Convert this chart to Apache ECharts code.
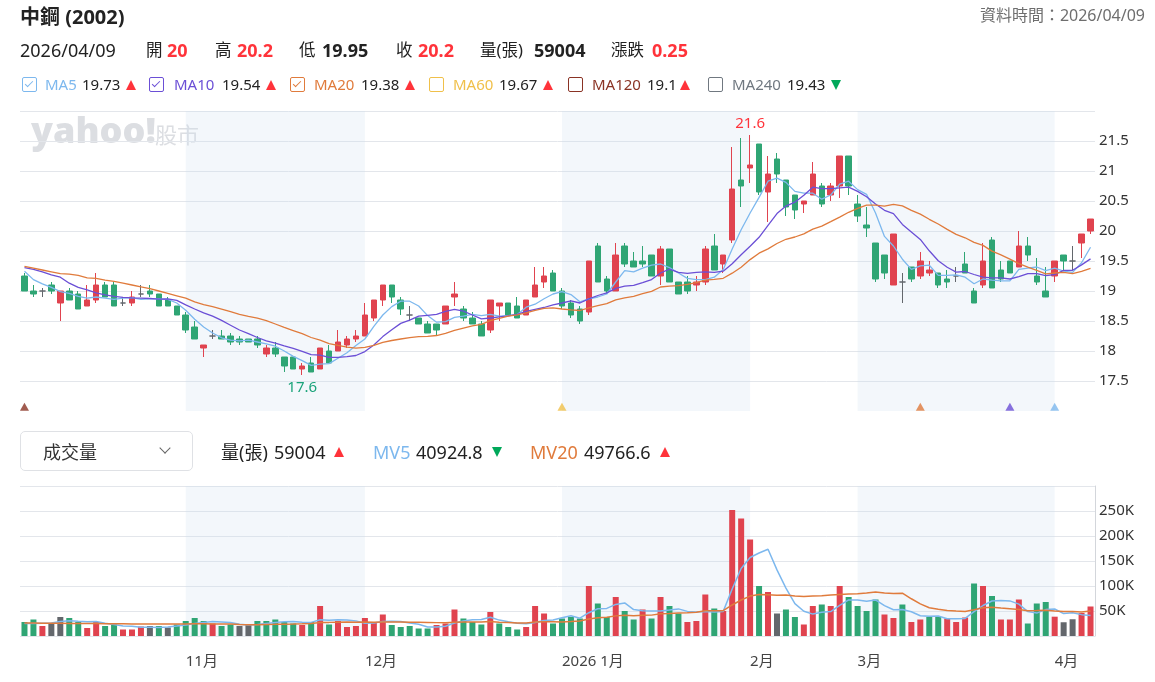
<!DOCTYPE html>
<html>
<head>
<meta charset="utf-8">
<title>中鋼 (2002)</title>
<script src="https://cdn.jsdelivr.net/npm/echarts@6.0.0/dist/echarts.min.js"></script>
<style>
  body { margin: 0; background: #fff; font-family: "Noto Sans", "Noto Sans CJK TC", sans-serif; color: #222; }
  #wrap { position: relative; width: 1155px; height: 682px; overflow: hidden; }
  #chart { position: absolute; left: 0; top: 0; width: 1155px; height: 682px; }
  .t { position: absolute; white-space: nowrap; line-height: 1; }
  .b { font-weight: bold; }
  .red { color: #ff333a; }
  .row2 { top: 41px; font-size: 18px; }
  .row2.k { top: 42px; font-size: 16.5px; }
  .lg { top: 77px; font-size: 15px; }
  .mid { top: 443px; font-size: 18px; }
  .box { position: absolute; top: 77px; width: 13px; height: 13px; border: 1.5px solid; border-radius: 2px; }
  .box.on::after { content: ''; position: absolute; left: 4px; top: 1px; width: 3px; height: 7px;
    border: solid currentColor; border-width: 0 1.5px 1.5px 0; transform: rotate(45deg); }
  .up { position: absolute; width: 0; height: 0; border-left: 5px solid transparent; border-right: 5px solid transparent; border-bottom: 10px solid #ff333a; }
  .dn { position: absolute; width: 0; height: 0; border-left: 5px solid transparent; border-right: 5px solid transparent; border-top: 10px solid #00a85a; }
  #sel { position: absolute; left: 20px; top: 431px; width: 171px; height: 38px; border: 1.5px solid #dfe1e5; border-radius: 5px; }
  #chev { position: absolute; left: 161px; top: 444px; width: 7px; height: 7px; border: solid #666; border-width: 0 1.5px 1.5px 0; transform: rotate(45deg); }
</style>
</head>
<body>
<div id="wrap">
  <div id="chart"></div>

  <div class="t b" style="left:20px;top:7px;font-size:20px;">中鋼 (2002)</div>
  <div class="t" style="right:10px;top:7px;font-size:16px;color:#6e6e6e;">資料時間：2026/04/09</div>

  <div class="t row2" style="left:20px;">2026/04/09</div>
  <div class="t row2 k" style="left:146px;">開</div><div class="t row2 b red" style="left:167px;">20</div>
  <div class="t row2 k" style="left:215px;">高</div><div class="t row2 b red" style="left:237px;">20.2</div>
  <div class="t row2 k" style="left:299px;">低</div><div class="t row2 b" style="left:322px;">19.95</div>
  <div class="t row2 k" style="left:396px;">收</div><div class="t row2 b red" style="left:418px;">20.2</div>
  <div class="t row2 k" style="left:480px;">量(張)</div><div class="t row2 b" style="left:534px;">59004</div>
  <div class="t row2 k" style="left:611px;">漲跌</div><div class="t row2 b red" style="left:652px;">0.25</div>

  <div class="box on" style="left:22px;color:#7db8ee;"></div>
  <div class="t lg" style="left:45px;color:#7db8ee;">MA5</div><div class="t lg" style="left:82px;">19.73</div><div class="up" style="left:126px;top:80px;"></div>
  <div class="box on" style="left:149px;color:#6b4fd6;"></div>
  <div class="t lg" style="left:174px;color:#6b4fd6;">MA10</div><div class="t lg" style="left:222px;">19.54</div><div class="up" style="left:266px;top:80px;"></div>
  <div class="box on" style="left:290px;color:#e07b3c;"></div>
  <div class="t lg" style="left:314px;color:#e07b3c;">MA20</div><div class="t lg" style="left:361px;">19.38</div><div class="up" style="left:405px;top:80px;"></div>
  <div class="box" style="left:429px;color:#f0c04a;"></div>
  <div class="t lg" style="left:453px;color:#f0c04a;">MA60</div><div class="t lg" style="left:499px;">19.67</div><div class="up" style="left:543px;top:80px;"></div>
  <div class="box" style="left:568px;color:#8a3324;"></div>
  <div class="t lg" style="left:592px;color:#8a3324;">MA120</div><div class="t lg" style="left:647px;">19.1</div><div class="up" style="left:680px;top:80px;"></div>
  <div class="box" style="left:708px;color:#707880;"></div>
  <div class="t lg" style="left:732px;color:#707880;">MA240</div><div class="t lg" style="left:787px;">19.43</div><div class="dn" style="left:831px;top:80px;"></div>

  <div id="sel"></div>
  <div class="t mid" style="left:43px;color:#333;">成交量</div>
  <div id="chev"></div>
  <div class="t mid" style="left:221px;">量(張)</div><div class="t mid" style="left:274px;">59004</div><div class="up" style="left:334px;top:447px;"></div>
  <div class="t mid" style="left:373px;color:#7db8ee;">MV5</div><div class="t mid" style="left:416px;">40924.8</div><div class="dn" style="left:492px;top:447px;"></div>
  <div class="t mid" style="left:530px;color:#e07b3c;">MV20</div><div class="t mid" style="left:584px;">49766.6</div><div class="up" style="left:660px;top:447px;"></div>
</div>

<script>
  // 交易日
  var dates = [
    '2025/10/03','2025/10/07','2025/10/08','2025/10/09','2025/10/13','2025/10/14','2025/10/15','2025/10/16','2025/10/17',
    '2025/10/20','2025/10/21','2025/10/22','2025/10/23','2025/10/27','2025/10/28','2025/10/29','2025/10/30','2025/10/31',
    '2025/11/03','2025/11/04','2025/11/05','2025/11/06','2025/11/07','2025/11/10','2025/11/11','2025/11/12','2025/11/13',
    '2025/11/14','2025/11/17','2025/11/18','2025/11/19','2025/11/20','2025/11/21','2025/11/24','2025/11/25','2025/11/26',
    '2025/11/27','2025/11/28',
    '2025/12/01','2025/12/02','2025/12/03','2025/12/04','2025/12/05','2025/12/08','2025/12/09','2025/12/10','2025/12/11',
    '2025/12/12','2025/12/15','2025/12/16','2025/12/17','2025/12/18','2025/12/19','2025/12/22','2025/12/23','2025/12/24',
    '2025/12/26','2025/12/29','2025/12/30','2025/12/31',
    '2026/01/02','2026/01/05','2026/01/06','2026/01/07','2026/01/08','2026/01/09','2026/01/12','2026/01/13','2026/01/14',
    '2026/01/15','2026/01/16','2026/01/19','2026/01/20','2026/01/21','2026/01/22','2026/01/23','2026/01/26','2026/01/27',
    '2026/01/28','2026/01/29','2026/01/30',
    '2026/02/02','2026/02/03','2026/02/04','2026/02/05','2026/02/06','2026/02/09','2026/02/10','2026/02/11',
    '2026/02/23','2026/02/24','2026/02/25','2026/02/26',
    '2026/03/02','2026/03/03','2026/03/04','2026/03/05','2026/03/06','2026/03/09','2026/03/10','2026/03/11','2026/03/12',
    '2026/03/13','2026/03/16','2026/03/17','2026/03/18','2026/03/19','2026/03/20','2026/03/23','2026/03/24','2026/03/25',
    '2026/03/26','2026/03/27','2026/03/30','2026/03/31',
    '2026/04/01','2026/04/02','2026/04/07','2026/04/08','2026/04/09'
  ];

  var opens = [
    19.25, 19.0, 19.0, 19.1, 18.8, 19.0, 18.95, 18.75, 18.85, 19.1,
    19.1, 18.8, 18.8, 18.95, 19.0, 18.95, 18.85, 18.75, 18.6, 18.4,
    18.05, 18.25, 18.25, 18.25, 18.2, 18.2, 18.2, 17.95, 18.05, 17.9,
    17.9, 17.7, 17.8, 17.7, 18.0, 18.0, 18.1, 18.2, 18.25, 18.55,
    18.85, 19.1, 18.85, 18.6, 18.55, 18.45, 18.45, 18.45, 18.9, 18.7,
    18.55, 18.45, 18.35, 18.75, 18.8, 18.75, 18.6, 18.9, 19.15, 19.3,
    19.0, 18.8, 18.7, 18.65, 19.75, 19.2, 19.0, 19.75, 19.5, 19.5,
    19.6, 19.25, 19.7, 19.15, 19.15, 19.1, 19.15, 19.75, 19.45, 19.85,
    20.85, 21.05, 21.45, 20.65, 21.2, 20.85, 20.6, 20.45, 20.6, 20.75,
    20.6, 20.75, 21.25, 20.45, 20.1, 19.8, 19.6, 19.1, 19.15, 19.4,
    19.25, 19.3, 19.3, 19.2, 19.25, 19.45, 19.0, 19.1, 19.85, 19.35,
    19.5, 19.4, 19.75, 19.25, 19.0, 19.25, 19.6, 19.5, 19.8, 20.0
  ];
  var closes = [
    19.0, 18.95, 19.0, 19.0, 19.0, 18.85, 18.7, 18.85, 19.1, 18.9,
    18.75, 18.8, 18.9, 18.95, 18.95, 18.75, 18.75, 18.6, 18.35, 18.2,
    18.1, 18.25, 18.2, 18.15, 18.15, 18.15, 18.1, 18.05, 17.95, 17.75,
    17.7, 17.75, 17.65, 18.05, 17.8, 18.15, 18.2, 18.25, 18.6, 18.85,
    19.1, 18.9, 18.7, 18.6, 18.45, 18.3, 18.35, 18.75, 18.95, 18.55,
    18.45, 18.25, 18.85, 18.8, 18.6, 18.55, 18.85, 19.1, 19.25, 19.0,
    18.75, 18.6, 18.5, 19.5, 19.15, 19.0, 19.6, 19.45, 19.4, 19.45,
    19.25, 19.7, 19.15, 18.95, 19.0, 19.15, 19.7, 19.35, 19.6, 20.7,
    20.75, 21.1, 20.65, 20.95, 20.95, 20.4, 20.35, 20.5, 20.95, 20.45,
    20.75, 21.25, 20.75, 20.25, 20.05, 19.2, 19.3, 19.95, 19.15, 19.2,
    19.5, 19.35, 19.1, 19.15, 19.25, 19.3, 18.8, 19.5, 19.05, 19.2,
    19.3, 19.75, 19.6, 19.15, 18.9, 19.5, 19.5, 19.5, 19.95, 20.2
  ];
  var lows = [
    19.0, 18.9, 18.9, 18.95, 18.5, 18.85, 18.7, 18.75, 18.8, 18.9,
    18.75, 18.75, 18.75, 18.9, 18.9, 18.75, 18.75, 18.6, 18.3, 18.2,
    17.9, 18.2, 18.2, 18.1, 18.1, 18.15, 18.05, 17.9, 17.9, 17.65,
    17.7, 17.6, 17.65, 17.7, 17.8, 18.0, 18.05, 18.15, 18.25, 18.5,
    18.75, 18.8, 18.6, 18.5, 18.45, 18.3, 18.25, 18.45, 18.75, 18.5,
    18.45, 18.25, 18.3, 18.5, 18.6, 18.55, 18.6, 18.9, 19.05, 19.0,
    18.7, 18.55, 18.45, 18.6, 19.15, 18.95, 19.0, 19.4, 19.4, 19.4,
    19.25, 19.1, 19.15, 18.95, 18.95, 19.0, 19.1, 19.35, 19.3, 19.8,
    20.4, 20.8, 20.6, 20.15, 20.8, 20.25, 20.2, 20.3, 20.6, 20.4,
    20.5, 20.55, 20.6, 20.15, 19.9, 19.15, 19.2, 19.1, 18.8, 19.15,
    19.2, 19.25, 19.05, 19.05, 19.15, 19.3, 18.8, 19.05, 19.05, 19.15,
    19.3, 19.4, 19.5, 19.1, 18.9, 19.15, 19.35, 19.35, 19.55, 19.95
  ];
  var highs = [
    19.3, 19.1, 19.05, 19.15, 19.0, 19.05, 19.0, 19.1, 19.3, 19.15,
    19.15, 18.9, 19.0, 19.1, 19.1, 18.95, 18.9, 18.75, 18.65, 18.5,
    18.1, 18.35, 18.35, 18.3, 18.25, 18.2, 18.25, 18.1, 18.15, 17.9,
    17.9, 17.8, 17.9, 18.05, 18.1, 18.35, 18.25, 18.35, 18.8, 18.85,
    19.1, 19.1, 18.9, 18.75, 18.55, 18.5, 18.45, 18.75, 19.15, 18.75,
    18.65, 18.5, 18.85, 18.8, 18.8, 18.9, 18.85, 19.4, 19.4, 19.35,
    19.05, 18.85, 18.75, 19.5, 19.8, 19.25, 19.8, 19.8, 19.65, 19.75,
    19.6, 19.75, 19.7, 19.15, 19.25, 19.25, 19.75, 19.95, 19.6, 21.4,
    21.55, 21.6, 21.45, 21.25, 21.3, 20.85, 20.6, 20.5, 21.15, 20.8,
    20.8, 21.25, 21.25, 20.6, 20.4, 19.8, 19.6, 19.95, 19.3, 19.4,
    19.65, 19.5, 19.3, 19.35, 19.4, 19.65, 19.05, 19.8, 19.9, 19.5,
    19.5, 20.0, 19.9, 19.55, 19.4, 19.5, 19.6, 19.75, 19.95, 20.2
  ];
  // 成交量(張)
  var volumes = [
    28000, 33000, 20000, 25000, 38000, 36000, 28000, 16000, 28000, 20000,
    23000, 13000, 13000, 19000, 20000, 20000, 17000, 23000, 30000, 36000,
    30000, 25000, 20000, 23000, 20000, 22000, 30000, 30000, 33000, 28000,
    25000, 22000, 28000, 60000, 23000, 30000, 18000, 20000, 36000, 27000,
    43000, 22000, 18000, 20000, 15000, 15000, 22000, 25000, 53000, 35000,
    28000, 23000, 48000, 25000, 18000, 13000, 18000, 60000, 45000, 25000,
    35000, 38000, 35000, 100000, 65000, 38000, 78000, 50000, 33000, 53000,
    35000, 78000, 60000, 45000, 28000, 30000, 83000, 55000, 50000, 252000,
    235000, 193000, 100000, 88000, 45000, 53000, 38000, 23000, 60000, 63000,
    60000, 100000, 78000, 60000, 50000, 73000, 43000, 36000, 63000, 28000,
    33000, 38000, 38000, 35000, 28000, 37000, 105000, 100000, 80000, 33000,
    33000, 73000, 25000, 65000, 68000, 38620, 27500, 33500, 46000, 59004
  ];

  // 圖表開始前的均線值
  var ma5Head = [19.33, 19.19, 19.12, 19.06];
  var ma10Head = [19.39, 19.36, 19.32, 19.27, 19.23, 19.13, 19.06, 19.02, 18.97];
  var ma20Head = [19.41, 19.38, 19.35, 19.32, 19.29, 19.28, 19.26, 19.22, 19.21, 19.18,
                  19.16, 19.13, 19.10, 19.07, 19.04, 19.00, 18.96, 18.92, 18.88];
  var mv5Head = [25000, 25000, 25500, 26000];
  var mv20Head = [26000, 26000, 25500, 25500, 25500, 25000, 25000, 25000, 25000, 24500,
                  24500, 24500, 24000, 24000, 24000, 24000, 24000, 24000, 24000];

  // 均線訊號
  var signalDates = ['2025/10/03', '2026/01/02', '2026/03/11', '2026/03/25', '2026/04/01'];
  var signalLines = ['MA120', 'MA60', 'MA20', 'MA10', 'MA5'];

  var RED = '#e0434f', GREEN = '#2fa574', GRAY = '#63676c';
  var lineColors = { MA5: '#7db8ee', MA10: '#6b4fd6', MA20: '#e07b3c', MA60: '#f0c04a', MA120: '#8a3324', MA240: '#707880' };

  function movingAvg(values, n, head) {
    return values.map(function (v, i) {
      if (i < n - 1) return head[i];
      var s = 0;
      for (var k = i - n + 1; k <= i; k++) s += values[k];
      return +(s / n).toFixed(3);
    });
  }

  var candleData = dates.map(function (d, i) {
    var v = [opens[i], closes[i], lows[i], highs[i]];
    if (opens[i] === closes[i]) {
      return { value: v, itemStyle: { color: GRAY, color0: GRAY, borderColor: GRAY, borderColor0: GRAY, borderColorDoji: GRAY } };
    }
    return v;
  });

  var volData = volumes.map(function (v, i) {
    var c;
    if (i === 0) c = closes[0] < opens[0] ? GREEN : RED;
    else c = closes[i] > closes[i - 1] ? RED : (closes[i] < closes[i - 1] ? GREEN : GRAY);
    return { value: v, itemStyle: { color: c } };
  });

  // 月份分界
  var monthStarts = [];
  dates.forEach(function (d, i) {
    if (i > 0 && d.slice(5, 7) !== dates[i - 1].slice(5, 7)) monthStarts.push(i);
  });
  var bands = [];
  for (var m = 0; m + 1 < monthStarts.length; m += 2) {
    bands.push([{ xAxis: dates[monthStarts[m]] }, { xAxis: dates[monthStarts[m + 1]] }]);
  }
  var bandStyle = { color: 'rgba(205,220,238,0.24)' };

  var iMax = highs.indexOf(Math.max.apply(null, highs));
  var iMin = lows.indexOf(Math.min.apply(null, lows));

  var chart = echarts.init(document.getElementById('chart'));
  var option = {
    animation: false,
    textStyle: { fontFamily: '"Noto Sans", "Noto Sans CJK TC", sans-serif' },
    graphic: [
      { type: 'text', left: 31, top: 115, z: 0, style: { text: 'yahoo!', font: '800 36px "Open Sans"', fill: '#dcdee2' } },
      { type: 'text', left: 155, top: 124, z: 0, style: { text: '股市', font: '22px "Noto Sans CJK TC"', fill: '#dcdee2' } }
    ],
    grid: [
      { left: 20, right: 60, top: 111, height: 300 },
      { left: 20, right: 60, top: 486, height: 150 }
    ],
    xAxis: [
      { type: 'category', gridIndex: 0, data: dates, boundaryGap: true,
        axisLine: { show: false }, axisTick: { show: false }, axisLabel: { show: false }, splitLine: { show: false } },
      { type: 'category', gridIndex: 1, data: dates, boundaryGap: true,
        axisLine: { show: false }, axisTick: { show: false }, splitLine: { show: false },
        axisLabel: {
          color: '#444', fontSize: 15, align: 'left', margin: 18,
          interval: function (index) { return monthStarts.indexOf(index) >= 0; },
          formatter: function (value) {
            var mo = Number(value.slice(5, 7));
            return mo === 1 ? value.slice(0, 4) + ' 1月' : mo + '月';
          }
        } }
    ],
    yAxis: [
      { type: 'value', gridIndex: 0, position: 'right', min: 17, max: 22, interval: 0.5,
        axisLine: { show: false }, axisTick: { show: false },
        axisLabel: { color: '#333', fontSize: 15, margin: 4, showMinLabel: false, showMaxLabel: false },
        splitLine: { lineStyle: { color: ['rgba(0,0,0,0)', '#e3e6eb', '#e3e6eb', '#e3e6eb', '#e3e6eb', '#e3e6eb',
          '#e3e6eb', '#e3e6eb', '#e3e6eb', '#e3e6eb', '#e3e6eb'] } } },
      { type: 'value', gridIndex: 1, position: 'right', min: 0, max: 300000, interval: 50000,
        axisLine: { show: true, lineStyle: { color: '#d3d6db' } }, axisTick: { show: false },
        axisLabel: { color: '#333', fontSize: 15, margin: 4, showMinLabel: false, showMaxLabel: false,
          formatter: function (v) { return v / 1000 + 'K'; } },
        splitLine: { lineStyle: { color: '#e3e6eb' } } }
    ],
    series: [
      { type: 'line', xAxisIndex: 0, yAxisIndex: 0, data: closes, z: 1, silent: true, showSymbol: false,
        lineStyle: { opacity: 0 }, markArea: { silent: true, itemStyle: bandStyle, data: bands } },
      { type: 'candlestick', xAxisIndex: 0, yAxisIndex: 0, data: candleData, z: 3, barWidth: 6,
        itemStyle: { color: RED, color0: GREEN, borderColor: RED, borderColor0: GREEN, borderColorDoji: GRAY, borderWidth: 1 },
        markPoint: {
          symbol: 'circle', symbolSize: 1, itemStyle: { color: 'rgba(0,0,0,0)' },
          label: { show: true, fontSize: 15, formatter: function (p) { return p.value; } },
          data: [
            { coord: [dates[iMax], highs[iMax]], value: highs[iMax], label: { position: 'top', distance: 3, color: '#ff333a' } },
            { coord: [dates[iMin], lows[iMin]], value: lows[iMin], label: { position: 'bottom', distance: 5, color: '#1aa37a' } }
          ]
        } },
      { type: 'line', name: 'MA5', xAxisIndex: 0, yAxisIndex: 0, data: movingAvg(closes, 5, ma5Head), z: 4,
        showSymbol: false, lineStyle: { width: 1.3, color: lineColors.MA5 } },
      { type: 'line', name: 'MA10', xAxisIndex: 0, yAxisIndex: 0, data: movingAvg(closes, 10, ma10Head), z: 4,
        showSymbol: false, lineStyle: { width: 1.3, color: lineColors.MA10 } },
      { type: 'line', name: 'MA20', xAxisIndex: 0, yAxisIndex: 0, data: movingAvg(closes, 20, ma20Head), z: 4,
        showSymbol: false, lineStyle: { width: 1.3, color: lineColors.MA20 } },
      { type: 'scatter', xAxisIndex: 0, yAxisIndex: 0, symbol: 'triangle', symbolSize: [9, 8], z: 5,
        data: signalDates.map(function (d, k) {
          return { value: [d, 17.07], itemStyle: { color: lineColors[signalLines[k]] } };
        }) },

      { type: 'line', xAxisIndex: 1, yAxisIndex: 1, data: volumes, z: 1, silent: true, showSymbol: false,
        lineStyle: { opacity: 0 }, markArea: { silent: true, itemStyle: bandStyle, data: bands } },
      { type: 'bar', xAxisIndex: 1, yAxisIndex: 1, data: volData, barWidth: 6, z: 3 },
      { type: 'line', name: 'MV5', xAxisIndex: 1, yAxisIndex: 1, data: movingAvg(volumes, 5, mv5Head), z: 4,
        showSymbol: false, lineStyle: { width: 1.5, color: lineColors.MA5 } },
      { type: 'line', name: 'MV20', xAxisIndex: 1, yAxisIndex: 1, data: movingAvg(volumes, 20, mv20Head), z: 4,
        showSymbol: false, lineStyle: { width: 1.5, color: lineColors.MA20 } }
    ]
  };
  chart.setOption(option);
</script>
</body>
</html>
